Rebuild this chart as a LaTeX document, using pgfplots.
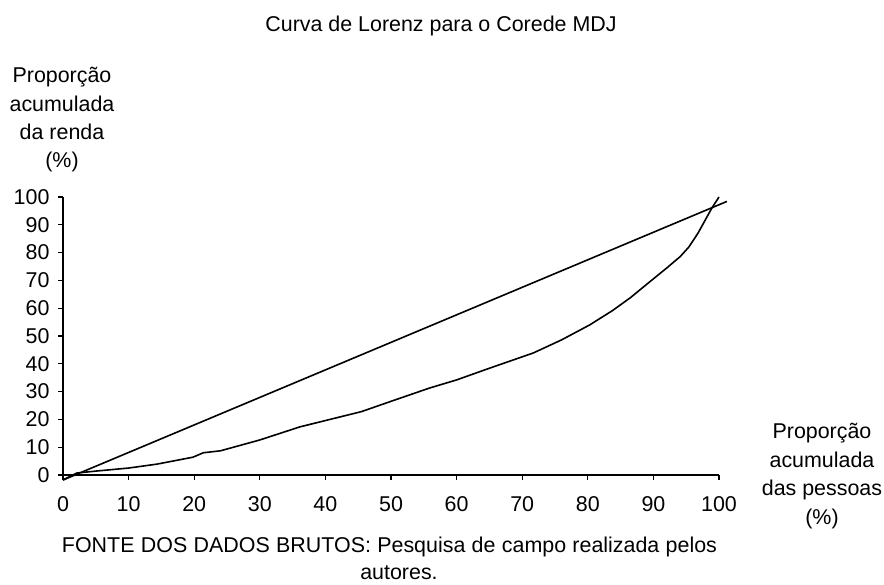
\documentclass[border=0pt]{standalone}
\usepackage{fontspec}
\setmainfont{Liberation Sans}
\usepackage{pgfplots}
\pgfplotsset{compat=1.18}
\begin{document}
\begin{tikzpicture}[x=1bp,y=1bp]
\useasboundingbox (0,0) rectangle (884,585);
\tikzset{lbl/.style={anchor=base,inner sep=0pt,font=\fontsize{21.5}{28}\selectfont}}
\begin{axis}[
  at={(63bp,110bp)}, anchor=origin,
  scale only axis, width=656bp, height=278bp,
  xmin=0, xmax=100, ymin=0, ymax=100,
  axis x line=bottom, axis y line=left,
  axis line style={-, line width=1.4bp},
  tick style={line width=1.2bp, black},
  tick align=outside, major tick length=5bp,
  xtick={0,10,...,100}, ytick={0,10,...,100},
  tick label style={font=\fontsize{21.5}{24}\selectfont},
  xticklabel style={yshift=-13bp},
  yticklabel style={xshift=-5bp},
  /pgf/number format/assume math mode=true,
  clip=false,
]
\addplot[black, line width=1.6bp] coordinates {(0,-1.8) (101.2,98.4)};
\addplot[black, line width=1.6bp, line join=round] coordinates {
(0,-1.8) (2.1,0.7) (5,1.4) (10,2.5) (14.3,3.9) (19.8,6.4) (21.4,8) (24,8.7)
(30,12.6) (36.1,17.3) (45.5,22.8) (50,26.5) (55.9,31.3) (60,34.2) (65,38.4)
(71.7,43.9) (76,48.6) (80.3,54) (83.8,59.2) (86.5,63.8) (89.5,69.6) (92,74.4)
(94.1,78.6) (95.4,82.0) (96.8,87) (98.9,96) (100,100)};
\end{axis}
\node[lbl] at (441,553) {Curva de Lorenz para o Corede MDJ};
\node[lbl] at (62,502) {Proporção};
\node[lbl] at (62,473) {acumulada};
\node[lbl] at (62,445) {da renda};
\node[lbl] at (62,417) {(\%)};
\node[lbl] at (822,146) {Proporção};
\node[lbl] at (822,117) {acumulada};
\node[lbl] at (822,89) {das pessoas};
\node[lbl] at (822,60) {(\%)};
\node[lbl] at (389.5,32) {\makebox[655bp][s]{FONTE DOS DADOS BRUTOS: Pesquisa de campo realizada pelos}};
\node[lbl] at (399,5) {autores.};
\end{tikzpicture}
\end{document}
